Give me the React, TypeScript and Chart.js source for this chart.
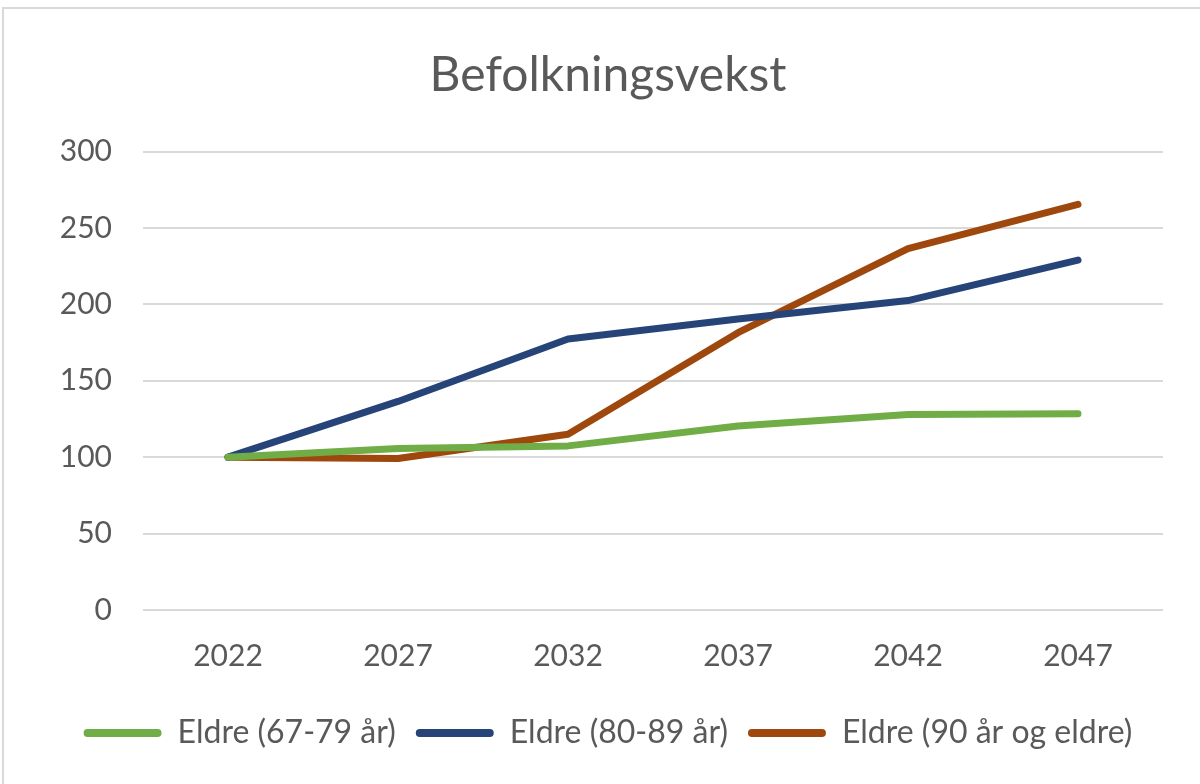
import React, { useEffect, useRef } from "react";
import { Chart, registerables } from "chart.js";

Chart.register(...registerables);

const title = "Befolkningsvekst";
const years = ["2022", "2027", "2032", "2037", "2042", "2047"];
const seriesNames = ["Eldre (67-79 år)", "Eldre (80-89 år)", "Eldre (90 år og eldre)"];
const eldre6779 = [100, 105.7, 107.4, 120.4, 128, 128.5];
const eldre8089 = [100, 136.5, 177.3, 190.5, 202.5, 229];
const eldre90 = [100, 99.2, 115, 181.5, 236.5, 265.5];
const seriesColors = ["#70AD47", "#264478", "#9E480E"];
const yTicks = [0, 50, 100, 150, 200, 250, 300];

const FONT = "Lato";
const TEXT = "#595959";

export default function App() {
  const ref = useRef<HTMLCanvasElement | null>(null);

  useEffect(() => {
    if (!ref.current) return;
    const values = [eldre6779, eldre8089, eldre90];
    const chart = new Chart(ref.current, {
      type: "line",
      data: {
        labels: years,
        datasets: seriesNames.map((name, i) => ({
          label: name,
          data: values[i],
          borderColor: seriesColors[i],
          backgroundColor: seriesColors[i],
          borderWidth: 7,
          pointRadius: 0,
          pointHoverRadius: 0,
          borderCapStyle: "round" as const,
          borderJoinStyle: "round" as const,
          tension: 0,
        })),
      },
      options: {
        responsive: false,
        animation: false,
        layout: { padding: { left: 53, right: 37, top: 0, bottom: 25 } },
        plugins: {
          title: {
            display: true,
            text: title,
            color: TEXT,
            font: { family: FONT, size: 48, weight: "normal" },
            padding: { top: 47, bottom: 47 },
          },
          legend: {
            position: "bottom",
            labels: {
              color: TEXT,
              font: { family: FONT, size: 32 },
              boxWidth: 78,
              boxHeight: 8,
              padding: 20,
              useBorderRadius: true,
              borderRadius: 4,
              generateLabels: (c: any) =>
                c.data.datasets.map((ds: any, i: number) => ({
                  text: ds.label,
                  fillStyle: ds.borderColor,
                  strokeStyle: ds.borderColor,
                  lineWidth: 0,
                  fontColor: TEXT,
                  hidden: false,
                  datasetIndex: i,
                  borderRadius: 4,
                })),
            },
          },
          tooltip: { enabled: false },
        },
        scales: {
          x: {
            offset: true,
            grid: { display: false, drawTicks: false },
            border: { display: false },
            ticks: { color: TEXT, font: { family: FONT, size: 30 }, padding: 28 },
            afterFit: (s: any) => {
              s.height = 87;
            },
          },
          y: {
            min: 0,
            max: 300,
            afterBuildTicks: (s: any) => {
              s.ticks = yTicks.map((v) => ({ value: v }));
            },
            grid: { color: "#d9d9d9", lineWidth: 2, drawTicks: false },
            border: { display: false },
            ticks: { color: TEXT, font: { family: FONT, size: 30 }, padding: 31 },
            afterFit: (s: any) => {
              s.width = 90;
            },
          },
        },
      },
    });
    return () => chart.destroy();
  }, []);

  return (
    <div style={{ position: "fixed", left: 0, top: 0, width: 1200, height: 784, background: "#fff", overflow: "hidden" }}>
      <div
        style={{
          position: "absolute",
          left: 2,
          top: 7,
          width: 1210,
          height: 800,
          border: "2px solid #d9d9d9",
          boxSizing: "border-box",
        }}
      />
      <canvas ref={ref} width={1200} height={784} style={{ position: "absolute", left: 0, top: 0 }} />
    </div>
  );
}
